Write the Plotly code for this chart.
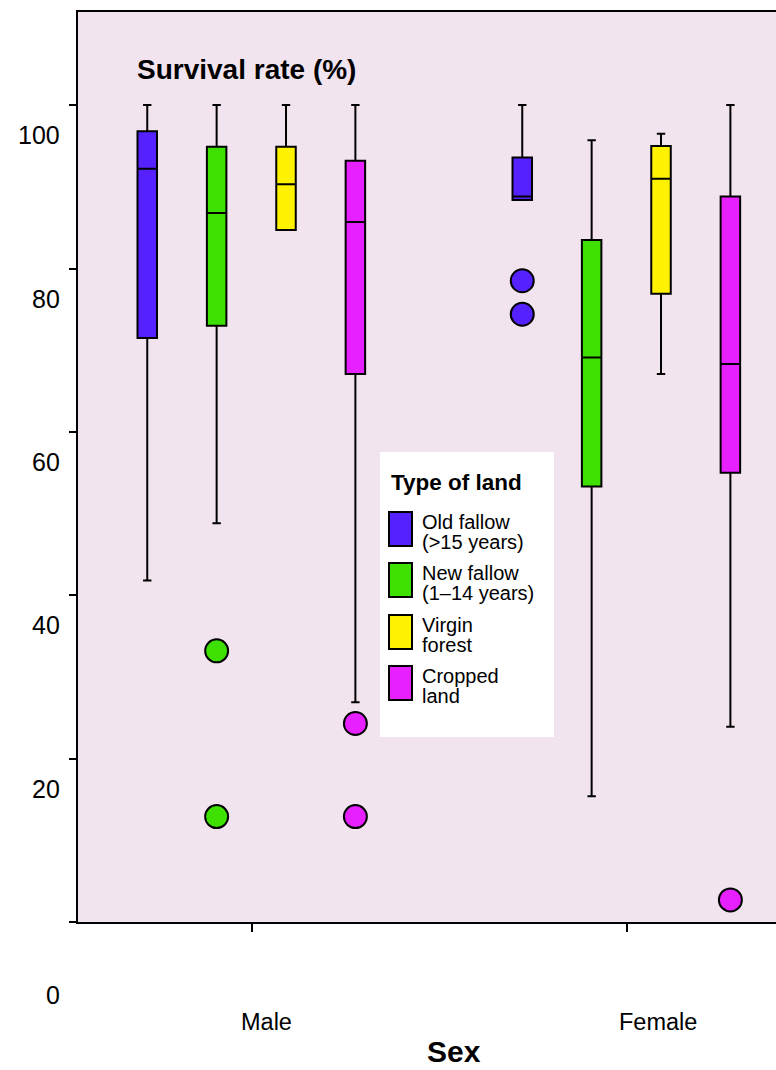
import plotly.graph_objects as go

# ---- data -------------------------------------------------------------
SEXES = ["Male", "Female"]
LAND_TYPES = ["Old fallow", "New fallow", "Virgin forest", "Cropped land"]
LEGEND_LINES = [
    ["Old fallow", "(>15 years)"],
    ["New fallow", "(1–14 years)"],
    ["Virgin", "forest"],
    ["Cropped", "land"],
]

# five-number summaries of survival rate (%), per land type: [male, female]
LOWER = [[41.8, 88.4], [48.8, 15.4], [84.7, 67.1], [26.9, 23.9]]
Q1 = [[71.5, 88.4], [73.0, 53.3], [84.7, 76.9], [67.1, 55.0]]
MEDIAN = [[92.2, 88.8], [86.8, 69.1], [90.3, 91.0], [85.7, 68.3]]
Q3 = [[96.8, 93.6], [94.9, 83.5], [94.9, 95.0], [93.2, 88.8]]
UPPER = [[100.0, 100.0], [100.0, 95.7], [100.0, 96.5], [100.0, 100.0]]
OUTLIERS = [
    [[], [78.5, 74.4]],
    [[33.2, 12.9], []],
    [[], []],
    [[24.3, 12.9], [2.7]],
]

Y_TICKS = [0, 20, 40, 60, 80, 100]
Y_TICK_TEXT = ["0", "20", "40", "60", "80", "100"]

# ---- styling ----------------------------------------------------------
COLORS = ["#5522FF", "#3DE000", "#FFF200", "#E620FF"]
BG = "#F2E4EF"
FONT = "Liberation Sans, Arial, sans-serif"

W, H = 776, 1070
M_L, M_R, M_T, M_B = 78, 0, 12, 148
PLOT_W = W - M_L - M_R
PLOT_H = H - M_T - M_B

# box positions within each sex group (x-axis units)
OFFSETS = [-0.278, -0.093, 0.092, 0.277]
BOX_W = 0.052
X_RANGE = [-0.4627, -0.4627 + PLOT_W / 375.0]
Y_RANGE = [0, 111.4]


def px_x(px):
    return (px - M_L) / PLOT_W


def px_y(py):
    return (M_T + PLOT_H - py) / PLOT_H


fig = go.Figure()

for i, land in enumerate(LAND_TYPES):
    for j, sex in enumerate(SEXES):
        pos = j + OFFSETS[i]
        fig.add_trace(go.Box(
            x=[pos],
            q1=[Q1[i][j]], median=[MEDIAN[i][j]], q3=[Q3[i][j]],
            lowerfence=[LOWER[i][j]], upperfence=[UPPER[i][j]],
            width=BOX_W, whiskerwidth=0.43,
            fillcolor=COLORS[i],
            line=dict(color="black", width=2),
            boxpoints=False, showlegend=False, hoverinfo="skip",
            name=f"{land} – {sex}",
        ))
        if OUTLIERS[i][j]:
            fig.add_trace(go.Scatter(
                x=[pos] * len(OUTLIERS[i][j]), y=OUTLIERS[i][j],
                mode="markers",
                marker=dict(size=23, color=COLORS[i],
                            line=dict(color="black", width=2)),
                showlegend=False, hoverinfo="skip",
            ))

annotations = []

# y tick labels
for v, t in zip(Y_TICKS, Y_TICK_TEXT):
    annotations.append(dict(
        x=0, xref="paper", xshift=-16, xanchor="right",
        y=v, yref="y", yshift=-72.5 if v == 0 else -30, yanchor="middle",
        text=t, showarrow=False, font=dict(family=FONT, size=25, color="black"),
    ))

# category labels
for j, (sex, shift) in enumerate(zip(SEXES, [15, 31])):
    annotations.append(dict(
        x=j, xref="x", xshift=shift, xanchor="center",
        y=0, yref="paper", yshift=-100, yanchor="middle",
        text=sex, showarrow=False, font=dict(family=FONT, size=23.5, color="black"),
    ))

# axis titles
annotations.append(dict(
    x=px_x(454), xref="paper", xanchor="center",
    y=px_y(1069), yref="paper", yanchor="bottom", borderpad=0,
    text="<b>Sex</b>", showarrow=False, font=dict(family=FONT, size=30, color="black"),
))
annotations.append(dict(
    x=px_x(135), xref="paper", xanchor="left",
    y=px_y(69), yref="paper", yanchor="middle",
    text="<b>Survival rate (%)</b>", showarrow=False,
    font=dict(family=FONT, size=28, color="black"),
))

# legend panel
shapes = [dict(
    type="rect", xref="paper", yref="paper",
    x0=px_x(380), x1=px_x(554), y0=px_y(737), y1=px_y(452),
    fillcolor="white", line=dict(width=0), layer="above",
)]
annotations.append(dict(
    x=px_x(389), xref="paper", xanchor="left",
    y=px_y(483), yref="paper", yanchor="middle",
    text="<b>Type of land</b>", showarrow=False,
    font=dict(family=FONT, size=22.5, color="black"),
))
swatch_tops = [512, 563, 615, 666]
for i, lines in enumerate(LEGEND_LINES):
    top = swatch_tops[i]
    shapes.append(dict(
        type="rect", xref="paper", yref="paper",
        x0=px_x(389), x1=px_x(412), y0=px_y(top + 34), y1=px_y(top),
        fillcolor=COLORS[i], line=dict(color="black", width=2), layer="above",
    ))
    for k, line in enumerate(lines):
        annotations.append(dict(
            x=px_x(420), xref="paper", xanchor="left",
            y=px_y(top + 10 + 20 * k), yref="paper", yanchor="middle",
            text=line, showarrow=False,
            font=dict(family=FONT, size=20, color="black"),
        ))

fig.update_layout(
    width=W, height=H,
    margin=dict(l=M_L, r=M_R, t=M_T, b=M_B, pad=0),
    paper_bgcolor="white", plot_bgcolor=BG,
    boxmode="overlay",
    showlegend=False,
    font=dict(family=FONT, color="black"),
    annotations=annotations,
    shapes=shapes,
    xaxis=dict(
        range=X_RANGE, tickvals=[0, 1], showticklabels=False,
        ticks="outside", ticklen=8, tickwidth=2, tickcolor="black",
        showline=True, linewidth=2, linecolor="black", mirror=True,
        showgrid=False, zeroline=False, fixedrange=True,
    ),
    yaxis=dict(
        range=Y_RANGE, tickvals=Y_TICKS, showticklabels=False,
        ticks="outside", ticklen=7, tickwidth=2, tickcolor="black",
        showline=True, linewidth=2, linecolor="black",
        showgrid=False, zeroline=False, fixedrange=True,
    ),
)

fig.write_html("out.html")
